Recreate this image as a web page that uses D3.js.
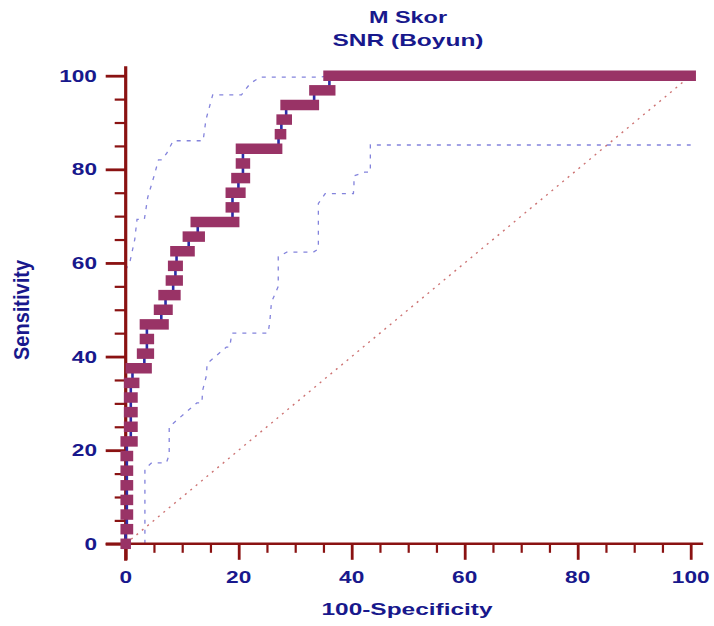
<!DOCTYPE html>
<html><head><meta charset="utf-8">
<script src="https://cdn.jsdelivr.net/npm/d3@7"></script>
<style>body{margin:0;background:#fff}svg{display:block}</style>
</head><body><svg id="c" width="714" height="626"></svg>
<script>
// ---- data ----
const titleLines = ["M Skor", "SNR (Boyun)"];
const xLabel = "100-Specificity";
const yLabel = "Sensitivity";
const xMajorTicks = [0, 20, 40, 60, 80, 100];
const xMinorTicks = [5, 10, 15, 25, 30, 35, 45, 50, 55, 65, 70, 75, 85, 90, 95];
const yMajorTicks = [0, 20, 40, 60, 80, 100];
const yMinorTicks = [5, 10, 15, 25, 30, 35, 45, 50, 55, 65, 70, 75, 85, 90, 95];

// ROC step levels: sensitivity, and the 100-specificity range of each horizontal step
const rocSens  = [0, 3.125, 6.25, 9.375, 12.5, 15.625, 18.75, 21.875, 25, 28.125, 31.25, 34.375,
                  37.5, 40.625, 43.75, 46.875, 50, 53.125, 56.25, 59.375, 62.5, 65.625, 68.75,
                  71.875, 75, 78.125, 81.25, 84.375, 87.5, 90.625, 93.75, 96.875, 100];
const rocStart = [0, 0, 0, 0, 0, 0, 0, 0, 0.6, 0.6, 0.6, 0.6,
                  0.9, 2.9, 3.4, 3.4, 5.9, 6.7, 8.0, 8.4, 8.8, 11.0, 12.4,
                  18.6, 18.6, 19.6, 20.4, 20.4, 27.3, 27.6, 28.3, 33.4, 35.9];
const rocEnd   = [0, 0.4, 0.4, 0.4, 0.4, 0.4, 0.4, 1.2, 1.2, 1.2, 1.2, 1.5,
                  3.7, 4.1, 4.1, 6.7, 7.4, 8.8, 9.2, 9.2, 11.3, 13.1, 19.2,
                  19.2, 20.3, 21.1, 21.1, 26.8, 27.5, 28.5, 33.3, 36.2, 100];

// 95% confidence bounds
const upperFpr  = [0, 0.8, 1.6, 2.0, 3.3, 3.9, 5.0, 5.8, 6.4, 7.3, 8.4, 13.7, 14.2, 15.4, 20.5, 22.0, 23.8, 34.4, 36.0];
const upperSens = [58.5, 60.5, 65.0, 69.3, 69.3, 74.0, 78.5, 82.0, 82.0, 83.5, 86.1, 86.1, 90.6, 95.9, 95.9, 98.3, 99.7, 99.7, 100];
const lowerFpr  = [3.4, 3.4, 4.6, 7.2, 7.7, 7.7, 12.6, 13.5, 13.6, 14.3, 14.4, 17.8, 18.4, 18.8, 25.2, 25.5, 25.8, 27.0, 27.0, 28.5, 33.2, 34.1, 34.1, 35.3, 40.3, 40.4, 40.4, 42.3, 43.3, 43.3, 100];
const lowerSens = [0, 16.0, 17.3, 17.3, 19.0, 25.0, 30.1, 30.1, 32.7, 36.0, 38.5, 42.0, 42.0, 45.0, 45.0, 47.4, 51.6, 55.0, 61.3, 62.3, 62.3, 63.0, 72.7, 74.8, 74.8, 76.5, 78.6, 79.4, 79.4, 85.2, 85.2];

const diagFpr = [0, 100];
const diagSens = [0, 100];

// ---- drawing ----
const svg = d3.select("#c");
const x = d3.scaleLinear().domain([0, 100]).range([125.7, 690.7]);
const y = d3.scaleLinear().domain([0, 100]).range([543.8, 75.7]);

const axisCol = "#8a1212";
const textCol = "#18188c";
const font = "'Liberation Sans', Arial, sans-serif";

// title
titleLines.forEach((t, i) => {
  svg.append("text").attr("x", 408).attr("y", [22.5, 46][i])
    .attr("text-anchor", "middle").attr("font-family", font).attr("font-weight", "bold")
    .attr("font-size", 17).attr("fill", textCol)
    .attr("textLength", [78, 151][i]).attr("lengthAdjust", "spacingAndGlyphs").text(t);
});

// diagonal reference line
const line = d3.line().x(d => x(d[0])).y(d => y(d[1]));
svg.append("path").datum(d3.zip(diagFpr, diagSens)).attr("d", line)
  .attr("fill", "none").attr("stroke", "#c05050").attr("stroke-width", 1.4)
  .attr("stroke-dasharray", "2,5").attr("opacity", 0.8);

// confidence bounds
[[upperFpr, upperSens], [lowerFpr, lowerSens]].forEach(([fx, sy]) => {
  svg.append("path").datum(d3.zip(fx, sy)).attr("d", line)
    .attr("fill", "none").attr("stroke", "#5a5ad0").attr("stroke-width", 1.3)
    .attr("stroke-dasharray", "4,6").attr("opacity", 0.75);
});

// axes
const gy = svg.append("g").attr("transform", `translate(${x(0)},0)`);
gy.append("g").call(d3.axisLeft(y).tickValues(yMinorTicks).tickSize(11).tickFormat(""))
  .call(g => g.select(".domain").remove())
  .call(g => g.selectAll("line").attr("stroke", axisCol).attr("stroke-width", 2.2));
gy.append("g").call(d3.axisLeft(y).tickValues(yMajorTicks).tickSize(20).tickFormat(""))
  .call(g => g.select(".domain").remove())
  .call(g => g.selectAll("line").attr("stroke", axisCol).attr("stroke-width", 2.8));

const gx = svg.append("g").attr("transform", `translate(0,${y(0)})`);
gx.append("g").call(d3.axisBottom(x).tickValues(xMinorTicks).tickSize(9).tickFormat(""))
  .call(g => g.select(".domain").remove())
  .call(g => g.selectAll("line").attr("stroke", axisCol).attr("stroke-width", 2.2));
gx.append("g").call(d3.axisBottom(x).tickValues(xMajorTicks).tickSize(16).tickFormat(""))
  .call(g => g.select(".domain").remove())
  .call(g => g.selectAll("line").attr("stroke", axisCol).attr("stroke-width", 2.8));

// axis lines
svg.append("line").attr("x1", x(0)).attr("x2", x(0)).attr("y1", y(102)).attr("y2", y(0) + 17)
  .attr("stroke", axisCol).attr("stroke-width", 3.2);
svg.append("line").attr("x1", x(0) - 20).attr("x2", x(102.2)).attr("y1", y(0)).attr("y2", y(0))
  .attr("stroke", axisCol).attr("stroke-width", 2.6);

// tick labels
svg.append("g").selectAll("text").data(yMajorTicks).join("text")
  .attr("x", 97).attr("y", d => y(d) + 6).attr("text-anchor", "end")
  .attr("font-family", font).attr("font-weight", "bold").attr("font-size", 17).attr("fill", textCol)
  .attr("textLength", d => String(d).length * 12.6).attr("lengthAdjust", "spacingAndGlyphs")
  .text(d => d);
svg.append("g").selectAll("text").data(xMajorTicks).join("text")
  .attr("x", d => x(d)).attr("y", 583).attr("text-anchor", "middle")
  .attr("font-family", font).attr("font-weight", "bold").attr("font-size", 17).attr("fill", textCol)
  .attr("textLength", d => String(d).length * 12.6).attr("lengthAdjust", "spacingAndGlyphs")
  .text(d => d);

// axis titles
svg.append("text").attr("x", 407).attr("y", 615).attr("text-anchor", "middle")
  .attr("font-family", font).attr("font-weight", "bold").attr("font-size", 17).attr("fill", textCol)
  .attr("textLength", 171).attr("lengthAdjust", "spacingAndGlyphs").text(xLabel);
svg.append("text").attr("transform", "translate(29,310) rotate(-90) scale(1,1.27)")
  .attr("text-anchor", "middle")
  .attr("font-family", font).attr("font-weight", "bold").attr("font-size", 17).attr("fill", textCol)
  .attr("textLength", 100).attr("lengthAdjust", "spacingAndGlyphs").text(yLabel);

// ROC curve: thin vertical connectors
const conn = d3.range(1, rocSens.length).map(i => ({
  f: (rocEnd[i - 1] + rocStart[i]) / 2, s0: rocSens[i - 1], s1: rocSens[i]
}));
svg.append("g").selectAll("line").data(conn).join("line")
  .attr("x1", d => x(d.f)).attr("x2", d => x(d.f))
  .attr("y1", d => y(d.s0)).attr("y2", d => y(d.s1))
  .attr("stroke", "#2c2ca8").attr("stroke-width", 2.6);

// ROC curve: thick horizontal steps
svg.append("g").selectAll("line").data(rocSens).join("line")
  .attr("x1", (d, i) => x(rocStart[i])).attr("x2", (d, i) => x(rocEnd[i]))
  .attr("y1", d => y(d)).attr("y2", d => y(d))
  .attr("stroke", "#993366").attr("stroke-width", 10.5).attr("stroke-linecap", "square");
</script></body></html>
